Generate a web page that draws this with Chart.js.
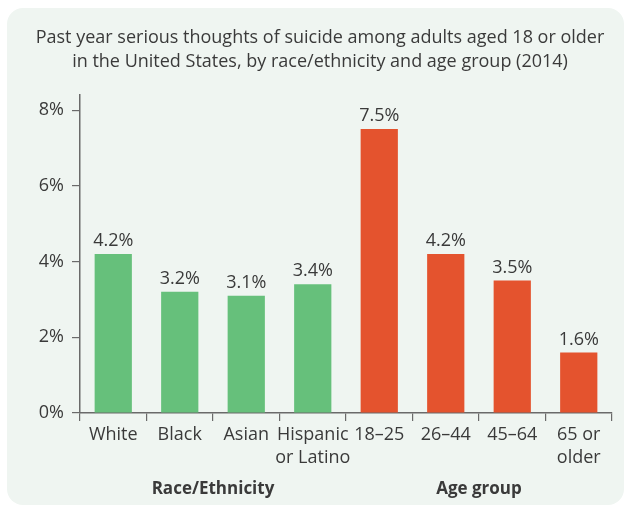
<!DOCTYPE html>
<html>
<head>
<meta charset="utf-8">
<script src="https://cdn.jsdelivr.net/npm/chart.js@4/dist/chart.umd.min.js"></script>
<style>
  html, body { margin: 0; padding: 0; background: #ffffff; }
  #wrap { width: 627px; height: 508px; position: relative; }
</style>
</head>
<body>
<div id="wrap"><canvas id="chart"></canvas></div>
<script>
const categories = ["White", "Black", "Asian", ["Hispanic", "or Latino"], "18–25", "26–44", "45–64", ["65 or", "older"]];
const rates      = [4.2, 3.2, 3.1, 3.4, 7.5, 4.2, 3.5, 1.6];
const groupNames = ["Race/Ethnicity", "Age group"];
const groupSizes = [4, 4];
const yTicks     = [0, 2, 4, 6, 8];
const titleLines = ["Past year serious thoughts of suicide among adults aged 18 or older",
                    "in the United States, by race/ethnicity and age group (2014)"];

const GREEN = "#66c07b";
const RED   = "#e4532e";
const TEXT  = "#3a3a3a";
const FONT  = "'Open Sans', sans-serif";

// rounded pale panel behind everything
const panelBg = {
  id: "panelBg",
  beforeDraw(chart) {
    const ctx = chart.ctx;
    ctx.save();
    ctx.fillStyle = "#eff5f1";
    ctx.beginPath();
    ctx.roundRect(7, 8, 617, 497, 16);
    ctx.fill();
    ctx.restore();
  }
};

// two-line heading
const heading = {
  id: "heading",
  afterDraw(chart) {
    const ctx = chart.ctx;
    ctx.save();
    ctx.font = "18px " + FONT;
    ctx.fillStyle = TEXT;
    ctx.textAlign = "center";
    ctx.textBaseline = "middle";
    titleLines.forEach((line, i) => ctx.fillText(line, 320, 38 + i * 24));
    ctx.restore();
  }
};

// value on top of each bar
const barValues = {
  id: "barValues",
  afterDatasetsDraw(chart) {
    const ctx = chart.ctx;
    const meta = chart.getDatasetMeta(0);
    ctx.save();
    ctx.font = "18px " + FONT;
    ctx.fillStyle = TEXT;
    ctx.textAlign = "center";
    ctx.textBaseline = "bottom";
    meta.data.forEach((bar, i) => {
      ctx.fillText(rates[i].toFixed(1) + "%", bar.x, bar.y - 4);
    });
    ctx.restore();
  }
};

// bold group captions under the category labels
const groupLabels = {
  id: "groupLabels",
  afterDraw(chart) {
    const ctx = chart.ctx;
    const x = chart.scales.x;
    ctx.save();
    ctx.font = "bold 17px " + FONT;
    ctx.fillStyle = TEXT;
    ctx.textAlign = "center";
    ctx.textBaseline = "middle";
    let start = 0;
    groupNames.forEach((name, g) => {
      const end = start + groupSizes[g] - 1;
      const cx = (x.getPixelForValue(start) + x.getPixelForValue(end)) / 2;
      ctx.fillText(name, cx, 489);
      start = end + 1;
    });
    ctx.restore();
  }
};

new Chart(document.getElementById("chart"), {
  type: "bar",
  data: {
    labels: categories,
    datasets: [{
      data: rates,
      backgroundColor: rates.map((_, i) => i < groupSizes[0] ? GREEN : RED),
      barPercentage: 0.56,
      categoryPercentage: 1
    }]
  },
  options: {
    responsive: true,
    maintainAspectRatio: false,
    animation: false,
    layout: { padding: { top: 95, right: 15, left: 0, bottom: 0 } },
    plugins: {
      legend: { display: false },
      tooltip: { enabled: false },
      title: { display: false }
    },
    scales: {
      x: {
        grid: { offset: true, drawOnChartArea: false, drawTicks: true, tickLength: 8, color: "#6a6a6a", lineWidth: 1.2 },
        border: { display: true, color: "#6a6a6a", width: 1.5 },
        ticks: { color: TEXT, font: { family: FONT, size: 18, lineHeight: 1.28 }, padding: 2, maxRotation: 0, autoSkip: false },
        afterFit(scale) { scale.height = 95; }
      },
      y: {
        min: 0,
        max: 8.4,
        afterBuildTicks(scale) { scale.ticks = yTicks.map(v => ({ value: v })); },
        grid: { drawOnChartArea: false, drawTicks: true, tickLength: 8, color: "#6a6a6a", lineWidth: 1.2 },
        border: { display: true, color: "#6a6a6a", width: 1.5 },
        ticks: { color: TEXT, font: { family: FONT, size: 18 }, padding: 8, callback: v => v + "%" },
        afterFit(scale) { scale.width = 80; }
      }
    }
  },
  plugins: [panelBg, heading, barValues, groupLabels]
});
</script>
</body>
</html>
